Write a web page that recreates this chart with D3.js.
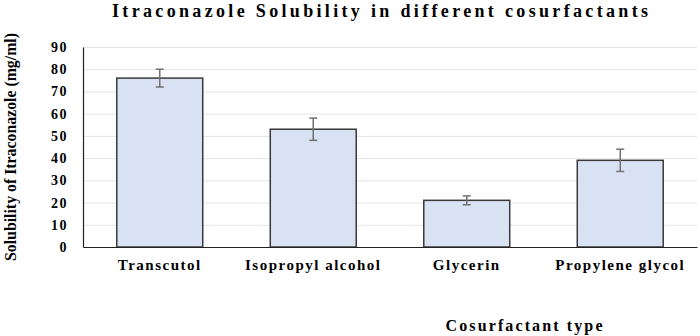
<!DOCTYPE html>
<html>
<head>
<meta charset="utf-8">
<script src="https://cdn.jsdelivr.net/npm/d3@7"></script>
<style>
  body { margin: 0; background: #fff; }
  text { font-family: "Liberation Serif", "Times New Roman", serif; font-weight: bold; fill: #000; }
</style>
</head>
<body>
<script>
const categories = ["Transcutol", "Isopropyl alcohol", "Glycerin", "Propylene glycol"];
const solubility = [76, 53, 21, 39];
const errors = [4, 5, 2, 5];
const yTicks = [0, 10, 20, 30, 40, 50, 60, 70, 80, 90];

const W = 700, H = 336;
const margin = { top: 47, right: 3, bottom: 89, left: 83 };
const width = W - margin.left - margin.right;
const height = H - margin.top - margin.bottom;

const svg = d3.select("body").append("svg")
	.attr("width", W)
	.attr("height", H);

const g = svg.append("g")
	.attr("transform", `translate(${margin.left},${margin.top})`);

const x = d3.scaleBand()
	.domain(categories)
	.range([0, width])
	.paddingInner(0.44)
	.paddingOuter(0.22);

const y = d3.scaleLinear()
	.domain([0, 90])
	.range([height, 0]);

// gridlines
g.append("g")
	.call(d3.axisLeft(y).tickValues(yTicks).tickSize(-width).tickFormat(""))
	.call(s => s.select(".domain").remove())
	.selectAll("line")
	.attr("stroke", "#e4e4e4")
	.attr("stroke-width", 1);

// bars
g.selectAll("rect.bar")
	.data(categories)
	.join("rect")
	.attr("class", "bar")
	.attr("x", d => x(d))
	.attr("y", (d, i) => y(solubility[i]))
	.attr("width", x.bandwidth())
	.attr("height", (d, i) => height - y(solubility[i]))
	.attr("fill", "#d9e2f3")
	.attr("stroke", "#3a3a3a")
	.attr("stroke-width", 1.5);

// error bars
const eb = g.selectAll("g.err")
	.data(categories)
	.join("g")
	.attr("class", "err")
	.attr("stroke", "#707070")
	.attr("stroke-width", 1.5);

eb.append("line")
	.attr("x1", d => x(d) + x.bandwidth() / 2)
	.attr("x2", d => x(d) + x.bandwidth() / 2)
	.attr("y1", (d, i) => y(solubility[i] + errors[i]))
	.attr("y2", (d, i) => y(solubility[i] - errors[i]));

[1, -1].forEach(sign => {
	eb.append("line")
		.attr("x1", d => x(d) + x.bandwidth() / 2 - 4)
		.attr("x2", d => x(d) + x.bandwidth() / 2 + 4)
		.attr("y1", (d, i) => y(solubility[i] + sign * errors[i]))
		.attr("y2", (d, i) => y(solubility[i] + sign * errors[i]));
});

// y axis
const yAxis = g.append("g")
	.call(d3.axisLeft(y).tickValues(yTicks).tickSize(0).tickPadding(15));
yAxis.select(".domain").attr("stroke", "#222").attr("stroke-width", 1.2);
yAxis.selectAll("text")
	.style("font-size", "14px")
	.style("letter-spacing", "1.5px")
	.style("font-family", "'Liberation Serif', serif")
	.style("font-weight", "bold")
	.attr("fill", "#000");

// x axis
const xAxis = g.append("g")
	.attr("transform", `translate(0,${height})`)
	.call(d3.axisBottom(x).tickSize(0).tickPadding(12).tickSizeOuter(0));
xAxis.select(".domain").attr("stroke", "#222").attr("stroke-width", 1.2);
xAxis.selectAll("text")
	.style("font-size", "15px")
	.style("letter-spacing", "1.5px")
	.style("font-family", "'Liberation Serif', serif")
	.style("font-weight", "bold")
	.attr("fill", "#000");

// title
svg.append("text")
	.attr("x", 380)
	.attr("y", 17)
	.attr("text-anchor", "middle")
	.attr("font-size", "18px")
	.attr("textLength", 536)
	.attr("lengthAdjust", "spacing")
	.text("Itraconazole Solubility in different cosurfactants");

// axis titles
svg.append("text")
	.attr("x", 524)
	.attr("y", 331)
	.attr("text-anchor", "middle")
	.attr("font-size", "16px")
	.attr("textLength", 157)
	.attr("lengthAdjust", "spacing")
	.text("Cosurfactant type");

svg.append("text")
	.attr("transform", "translate(16,147) rotate(-90)")
	.attr("text-anchor", "middle")
	.attr("font-size", "17px")
	.attr("textLength", 228)
	.attr("lengthAdjust", "spacingAndGlyphs")
	.text("Solubility of Itraconazole  (mg/ml)");
</script>
</body>
</html>
